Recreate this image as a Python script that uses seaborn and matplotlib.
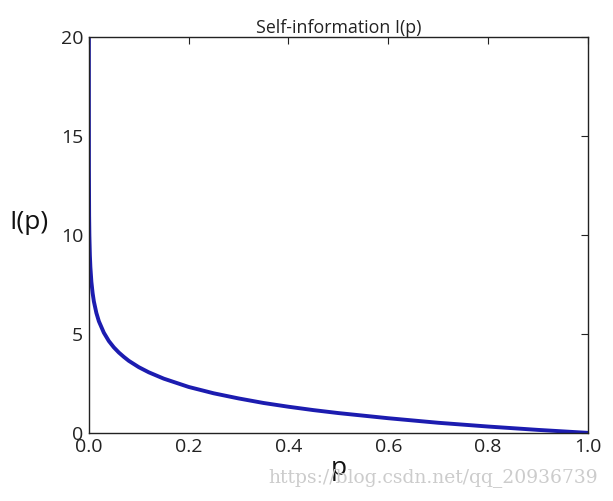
import matplotlib
matplotlib.use("Agg")
import matplotlib.pyplot as plt
import seaborn as sns
import pandas as pd

# values
p_values = [0.000001, 0.00001, 0.0001, 0.0005, 0.001, 0.002, 0.003, 0.005, 0.0075,
            0.01, 0.015, 0.02, 0.03, 0.04, 0.05, 0.06, 0.07, 0.08, 0.1, 0.12, 0.15,
            0.2, 0.25, 0.3, 0.35, 0.4, 0.45, 0.5, 0.6, 0.7, 0.8, 0.9, 1.0]
info_values = [19.93, 16.61, 13.29, 10.97, 9.97, 8.97, 8.38, 7.64, 7.06,
               6.64, 6.06, 5.64, 5.06, 4.64, 4.32, 4.06, 3.84, 3.64, 3.32, 3.06, 2.74,
               2.32, 2.00, 1.74, 1.51, 1.32, 1.15, 1.00, 0.74, 0.51, 0.32, 0.15, 0.0]
x_ticks = [0.0, 0.2, 0.4, 0.6, 0.8, 1.0]
y_ticks = [0, 5, 10, 15, 20]

df = pd.DataFrame({"p": p_values, "I": info_values})

sns.set_style("white")
plt.rcParams['font.family'] = ['Open Sans', 'DejaVu Sans']

fig = plt.figure(figsize=(6.13, 5.01), dpi=100)
ax = fig.add_axes([0.145, 0.136, 0.814, 0.790])
sns.lineplot(data=df, x="p", y="I", ax=ax, color="#1c1cb0", linewidth=2.8, sort=False)

ax.set_xlim(0, 1)
ax.set_ylim(0, 20)
ax.set_xticks(x_ticks)
ax.set_xticklabels([f"{v:.1f}" for v in x_ticks])
ax.set_yticks(y_ticks)
ax.tick_params(direction="in", length=5, width=0.8, top=True, right=True,
               labelsize=14, colors="#222222", pad=4)
for s in ax.spines.values():
    s.set_color("#222222")
    s.set_linewidth(1.0)
    s.set_visible(True)

ax.set_title("Self-information I(p)", fontsize=12.8, color="#222222", pad=3)
ax.set_xlabel("p", fontsize=19, color="#111111", labelpad=0)
ax.set_ylabel("I(p)", fontsize=19, color="#111111", rotation=0, labelpad=22)
ax.yaxis.set_label_coords(-0.12, 0.50)

fig.text(0.976, 0.047, "https://blog.csdn.net/qq_20936739", ha="right", va="center",
         fontsize=13.5, color="#cccccc", family="DejaVu Serif")

fig.savefig("out.png", dpi=100)
